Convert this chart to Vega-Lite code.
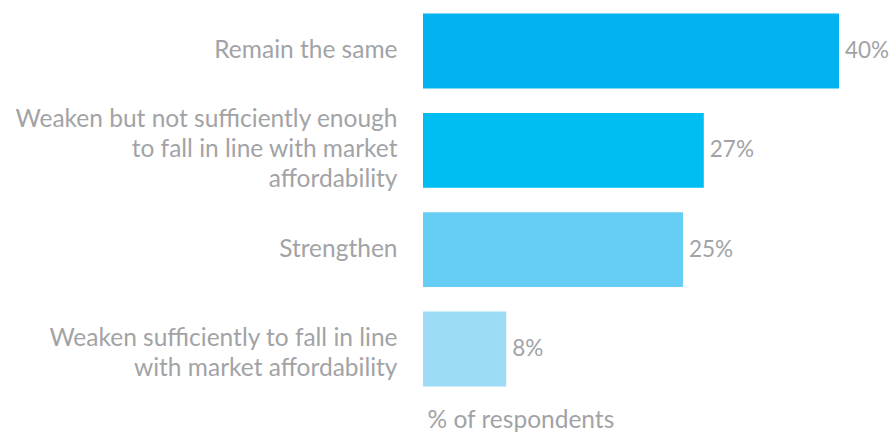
{
  "$schema": "https://vega.github.io/schema/vega-lite/v6.json",
  "width": 416,
  "height": 400,
  "autosize": "none",
  "padding": {"left": 423, "top": 0, "right": 52, "bottom": 36},
  "background": "white",
  "config": {"view": {"stroke": null}, "font": "Lato"},
  "data": {
    "values": [
      {"answer": "Remain the same", "pct": 0.40, "order": 1},
      {"answer": "Weaken but not sufficiently enough|to fall in line with market|affordability", "pct": 0.27, "order": 2},
      {"answer": "Strengthen", "pct": 0.25, "order": 3},
      {"answer": "Weaken sufficiently to fall in line|with market affordability", "pct": 0.08, "order": 4}
    ]
  },
  "encoding": {
    "y": {
      "field": "answer",
      "type": "nominal",
      "sort": {"field": "order"},
      "scale": {"paddingInner": 0.245, "paddingOuter": 0.137},
      "axis": {
        "title": null,
        "domain": false,
        "ticks": false,
        "labelPadding": 26,
        "labelFontSize": 24.5,
        "labelColor": "#A2A3A6",
        "labelLineHeight": 30,
        "labelBaseline": "middle",
        "labelLimit": 420,
        "labelOffset": {
          "condition": [
            {"test": "length(split(datum.value, '|')) == 3", "value": -30},
            {"test": "length(split(datum.value, '|')) == 2", "value": -10}
          ],
          "value": 0
        },
        "labelExpr": "split(datum.value, '|')"
      }
    },
    "x": {
      "field": "pct",
      "type": "quantitative",
      "scale": {"domain": [0, 0.4]},
      "axis": {
        "title": "% of respondents",
        "titleFontSize": 24.5,
        "titleFontWeight": "normal",
        "titleColor": "#A2A3A6",
        "titleAnchor": "start",
        "titleAlign": "left",
        "titleBaseline": "top",
        "titleX": 4,
        "titleY": 8,
        "domain": false,
        "ticks": false,
        "labels": false,
        "grid": false
      }
    }
  },
  "layer": [
    {
      "mark": {"type": "bar"},
      "encoding": {
        "color": {
          "field": "answer",
          "type": "nominal",
          "sort": {"field": "order"},
          "scale": {"range": ["#02B3F0", "#00BEF2", "#66CDF5", "#9CDCF7"]},
          "legend": null
        }
      }
    },
    {
      "mark": {"type": "text", "align": "left", "dx": 6, "fontSize": 22.5, "color": "#A2A3A6", "baseline": "middle"},
      "encoding": {
        "text": {"field": "pct", "type": "quantitative", "format": ".0%"}
      }
    }
  ]
}
